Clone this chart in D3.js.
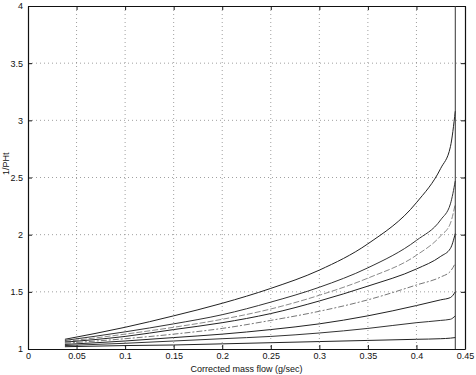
<!DOCTYPE html>
<html lang="en">
<head>
  <meta charset="UTF-8">
  <script src="https://d3js.org/d3.v7.min.js"></script>
  <title>1/PHt vs corrected mass flow</title>
  <style>
    body { margin: 0; background: #fff; }
    svg { font-family: "Liberation Sans", Arial, sans-serif; }
  </style>
</head>
<body>
  <svg style="width:476px;height:375px"></svg>
  <script>
    // mass flow (g/sec) where each curve was sampled
    const massFlow = [0.038, 0.1, 0.15, 0.2, 0.25, 0.3, 0.35, 0.4, 0.425, 0.435, 0.44];

    // 1/PHt curves, top to bottom
    const curve1 = [1.085, 1.19, 1.29, 1.40, 1.53, 1.69, 1.92, 2.28, 2.58, 2.77, 3.08];
    const curve2 = [1.075, 1.15, 1.22, 1.30, 1.41, 1.54, 1.71, 1.95, 2.13, 2.27, 2.47];
    const curve3 = [1.065, 1.13, 1.19, 1.26, 1.35, 1.47, 1.62, 1.82, 1.99, 2.10, 2.27];
    const curve4 = [1.06, 1.11, 1.17, 1.23, 1.31, 1.42, 1.55, 1.70, 1.81, 1.88, 2.01];
    const curve5 = [1.05, 1.09, 1.13, 1.18, 1.25, 1.33, 1.43, 1.56, 1.63, 1.68, 1.75];
    const curve6 = [1.04, 1.07, 1.10, 1.13, 1.17, 1.22, 1.29, 1.38, 1.43, 1.45, 1.50];
    const curve7 = [1.03, 1.05, 1.07, 1.09, 1.11, 1.14, 1.18, 1.23, 1.25, 1.26, 1.29];
    const curve8 = [1.02, 1.03, 1.035, 1.045, 1.055, 1.065, 1.075, 1.085, 1.09, 1.095, 1.10];

    // choke line (vertical at max flow)
    const chokeFlow = 0.44;

    const xTicks = [0, 0.05, 0.1, 0.15, 0.2, 0.25, 0.3, 0.35, 0.4, 0.45];
    const yTicks = [1, 1.5, 2, 2.5, 3, 3.5, 4];
    const xTickLabels = ["0", "0.05", "0.1", "0.15", "0.2", "0.25", "0.3", "0.35", "0.4", "0.45"];
    const yTickLabels = ["1", "1.5", "2", "2.5", "3", "3.5", "4"];

    const drawChart = () => {
      const svg = d3.select("svg");
      const left = 28, right = 465, top = 6, bottom = 349;

      const xScale = d3.scaleLinear().domain([0, 0.45]).range([left, right]);
      const yScale = d3.scaleLinear().domain([1, 4]).range([bottom, top]);

      // dotted grid
      const grid = svg.append("g").attr("class", "grid");
      grid.selectAll("line.gx")
        .data(xTicks.slice(1, -1))
        .enter()
        .append("line")
        .attr("x1", d => xScale(d)).attr("x2", d => xScale(d))
        .attr("y1", top).attr("y2", bottom)
        .attr("stroke", "#888").attr("stroke-width", 0.8)
        .attr("stroke-dasharray", "1,3");
      grid.selectAll("line.gy")
        .data(yTicks.slice(1, -1))
        .enter()
        .append("line")
        .attr("y1", d => yScale(d)).attr("y2", d => yScale(d))
        .attr("x1", left).attr("x2", right)
        .attr("stroke", "#888").attr("stroke-width", 0.8)
        .attr("stroke-dasharray", "1,3");

      // axes, ticks pointing inward like matlab
      const fmtX = (d, i) => xTickLabels[i];
      const fmtY = (d, i) => yTickLabels[i];

      svg.append("g")
        .attr("transform", `translate(0,${bottom})`)
        .call(d3.axisBottom(xScale).tickValues(xTicks).tickFormat(fmtX).tickSizeInner(-4).tickSizeOuter(0).tickPadding(4));
      svg.append("g")
        .attr("transform", `translate(${left},0)`)
        .call(d3.axisLeft(yScale).tickValues(yTicks).tickFormat(fmtY).tickSizeInner(-4).tickSizeOuter(0).tickPadding(5));
      svg.append("g")
        .attr("transform", `translate(0,${top})`)
        .call(d3.axisTop(xScale).tickValues(xTicks).tickFormat("").tickSizeInner(-4).tickSizeOuter(0));
      svg.append("g")
        .attr("transform", `translate(${right},0)`)
        .call(d3.axisRight(yScale).tickValues(yTicks).tickFormat("").tickSizeInner(-4).tickSizeOuter(0));

      svg.selectAll(".domain").attr("stroke", "#111").attr("stroke-width", 1.2);
      svg.selectAll(".tick line").attr("stroke", "#111");
      svg.selectAll(".tick text")
        .attr("font-size", 9)
        .attr("font-family", "Liberation Sans, Arial, sans-serif")
        .attr("fill", "#111");

      // curves
      const curves = [
        { values: curve1, color: "#222", dash: null },
        { values: curve2, color: "#333", dash: null },
        { values: curve3, color: "#8a8a8a", dash: "6,2" },
        { values: curve4, color: "#222", dash: null },
        { values: curve5, color: "#777", dash: "6,2,2,2" },
        { values: curve6, color: "#222", dash: null },
        { values: curve7, color: "#333", dash: null },
        { values: curve8, color: "#222", dash: null }
      ];

      const lineGen = d3.line()
        .x(d => xScale(d[0]))
        .y(d => yScale(d[1]))
        .curve(d3.curveMonotoneX);

      curves.forEach((item) => {
        const pts = massFlow.map((m, i) => [m, item.values[i]]);
        svg.append("path")
          .attr("d", lineGen(pts))
          .attr("fill", "none")
          .attr("stroke", item.color)
          .attr("stroke-width", 1)
          .attr("stroke-dasharray", item.dash);
      });

      // choke line
      svg.append("line")
        .attr("x1", xScale(chokeFlow)).attr("x2", xScale(chokeFlow))
        .attr("y1", yScale(1)).attr("y2", yScale(4))
        .attr("stroke", "#333").attr("stroke-width", 1);

      // labels
      svg.append("text")
        .attr("x", (left + right) / 2)
        .attr("y", 372)
        .attr("text-anchor", "middle")
        .attr("font-size", 9)
        .attr("fill", "#111")
        .text("Corrected mass flow (g/sec)");

      svg.append("text")
        .attr("transform", `translate(9,${yScale(2.62)}) rotate(-90)`)
        .attr("text-anchor", "middle")
        .attr("font-size", 9)
        .attr("fill", "#111")
        .text("1/PHt");
    }

    drawChart();
  </script>
</body>
</html>
